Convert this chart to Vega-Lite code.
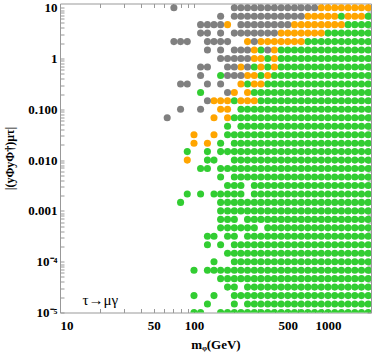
{
"$schema":"https://vega.github.io/schema/vega-lite/v6.json",
"width":311,"height":309,
"autosize":{"type":"none"},
"padding":{"left":60,"top":3.5,"right":3,"bottom":43.5},
"background":"white",
"config":{"view":{"stroke":null},"axis":{"grid":false,"domainColor":"#999999","tickColor":"#999999","labelFont":"Liberation Serif","labelFontWeight":"bold","labelFontSize":13,"labelColor":"#000000","titleFont":"Liberation Serif","titleFontWeight":"bold","titleFontSize":13,"titleColor":"#000000","tickSize":-4,"labelPadding":7,"labelOverlap":false}},
"datasets":{
"green":[
{"m":100,"y":1e-5},{"m":112,"y":1e-5},{"m":158,"y":1e-5},{"m":178,"y":1e-5},{"m":200,"y":1e-5},{"m":224,"y":1e-5},{"m":251,"y":1e-5},{"m":282,"y":1e-5},{"m":316,"y":1e-5},{"m":355,"y":1e-5},{"m":398,"y":1e-5},{"m":447,"y":1e-5},{"m":501,"y":1e-5},{"m":562,"y":1e-5},{"m":631,"y":1e-5},{"m":708,"y":1e-5},{"m":794,"y":1e-5},{"m":891,"y":1e-5},{"m":1000,"y":1e-5},{"m":1122,"y":1e-5},{"m":1259,"y":1e-5},{"m":1413,"y":1e-5},{"m":1585,"y":1e-5},{"m":1778,"y":1e-5},{"m":1995,"y":1e-5},
{"m":126,"y":1.47e-5},{"m":200,"y":1.47e-5},{"m":251,"y":1.47e-5},{"m":282,"y":1.47e-5},{"m":316,"y":1.47e-5},{"m":355,"y":1.47e-5},{"m":398,"y":1.47e-5},{"m":447,"y":1.47e-5},{"m":501,"y":1.47e-5},{"m":562,"y":1.47e-5},{"m":631,"y":1.47e-5},{"m":708,"y":1.47e-5},{"m":794,"y":1.47e-5},{"m":891,"y":1.47e-5},{"m":1000,"y":1.47e-5},{"m":1122,"y":1.47e-5},{"m":1259,"y":1.47e-5},{"m":1413,"y":1.47e-5},{"m":1585,"y":1.47e-5},{"m":1778,"y":1.47e-5},{"m":1995,"y":1.47e-5},
{"m":100,"y":2.15e-5},{"m":141,"y":2.15e-5},{"m":200,"y":2.15e-5},{"m":224,"y":2.15e-5},{"m":251,"y":2.15e-5},{"m":282,"y":2.15e-5},{"m":316,"y":2.15e-5},{"m":355,"y":2.15e-5},{"m":398,"y":2.15e-5},{"m":447,"y":2.15e-5},{"m":501,"y":2.15e-5},{"m":562,"y":2.15e-5},{"m":631,"y":2.15e-5},{"m":708,"y":2.15e-5},{"m":794,"y":2.15e-5},{"m":891,"y":2.15e-5},{"m":1000,"y":2.15e-5},{"m":1122,"y":2.15e-5},{"m":1259,"y":2.15e-5},{"m":1413,"y":2.15e-5},{"m":1585,"y":2.15e-5},{"m":1778,"y":2.15e-5},{"m":1995,"y":2.15e-5},
{"m":178,"y":3.16e-5},{"m":200,"y":3.16e-5},{"m":251,"y":3.16e-5},{"m":282,"y":3.16e-5},{"m":316,"y":3.16e-5},{"m":355,"y":3.16e-5},{"m":398,"y":3.16e-5},{"m":447,"y":3.16e-5},{"m":501,"y":3.16e-5},{"m":562,"y":3.16e-5},{"m":631,"y":3.16e-5},{"m":708,"y":3.16e-5},{"m":794,"y":3.16e-5},{"m":891,"y":3.16e-5},{"m":1000,"y":3.16e-5},{"m":1122,"y":3.16e-5},{"m":1259,"y":3.16e-5},{"m":1413,"y":3.16e-5},{"m":1585,"y":3.16e-5},{"m":1778,"y":3.16e-5},{"m":1995,"y":3.16e-5},
{"m":158,"y":4.64e-5},{"m":178,"y":4.64e-5},{"m":200,"y":4.64e-5},{"m":224,"y":4.64e-5},{"m":251,"y":4.64e-5},{"m":282,"y":4.64e-5},{"m":316,"y":4.64e-5},{"m":355,"y":4.64e-5},{"m":398,"y":4.64e-5},{"m":447,"y":4.64e-5},{"m":501,"y":4.64e-5},{"m":562,"y":4.64e-5},{"m":631,"y":4.64e-5},{"m":708,"y":4.64e-5},{"m":794,"y":4.64e-5},{"m":891,"y":4.64e-5},{"m":1000,"y":4.64e-5},{"m":1122,"y":4.64e-5},{"m":1259,"y":4.64e-5},{"m":1413,"y":4.64e-5},{"m":1585,"y":4.64e-5},{"m":1778,"y":4.64e-5},{"m":1995,"y":4.64e-5},
{"m":100,"y":6.81e-5},{"m":126,"y":6.81e-5},{"m":141,"y":6.81e-5},{"m":158,"y":6.81e-5},{"m":178,"y":6.81e-5},{"m":200,"y":6.81e-5},{"m":224,"y":6.81e-5},{"m":251,"y":6.81e-5},{"m":282,"y":6.81e-5},{"m":316,"y":6.81e-5},{"m":355,"y":6.81e-5},{"m":398,"y":6.81e-5},{"m":447,"y":6.81e-5},{"m":501,"y":6.81e-5},{"m":562,"y":6.81e-5},{"m":631,"y":6.81e-5},{"m":708,"y":6.81e-5},{"m":794,"y":6.81e-5},{"m":891,"y":6.81e-5},{"m":1000,"y":6.81e-5},{"m":1122,"y":6.81e-5},{"m":1259,"y":6.81e-5},{"m":1413,"y":6.81e-5},{"m":1585,"y":6.81e-5},{"m":1778,"y":6.81e-5},{"m":1995,"y":6.81e-5},
{"m":141,"y":1e-4},{"m":200,"y":1e-4},{"m":224,"y":1e-4},{"m":251,"y":1e-4},{"m":282,"y":1e-4},{"m":316,"y":1e-4},{"m":355,"y":1e-4},{"m":398,"y":1e-4},{"m":447,"y":1e-4},{"m":501,"y":1e-4},{"m":562,"y":1e-4},{"m":631,"y":1e-4},{"m":708,"y":1e-4},{"m":794,"y":1e-4},{"m":891,"y":1e-4},{"m":1000,"y":1e-4},{"m":1122,"y":1e-4},{"m":1259,"y":1e-4},{"m":1413,"y":1e-4},{"m":1585,"y":1e-4},{"m":1778,"y":1e-4},{"m":1995,"y":1e-4},
{"m":178,"y":1.47e-4},{"m":200,"y":1.47e-4},{"m":224,"y":1.47e-4},{"m":251,"y":1.47e-4},{"m":282,"y":1.47e-4},{"m":316,"y":1.47e-4},{"m":355,"y":1.47e-4},{"m":398,"y":1.47e-4},{"m":447,"y":1.47e-4},{"m":501,"y":1.47e-4},{"m":562,"y":1.47e-4},{"m":631,"y":1.47e-4},{"m":708,"y":1.47e-4},{"m":794,"y":1.47e-4},{"m":891,"y":1.47e-4},{"m":1000,"y":1.47e-4},{"m":1122,"y":1.47e-4},{"m":1259,"y":1.47e-4},{"m":1413,"y":1.47e-4},{"m":1585,"y":1.47e-4},{"m":1778,"y":1.47e-4},{"m":1995,"y":1.47e-4},
{"m":126,"y":2.15e-4},{"m":158,"y":2.15e-4},{"m":200,"y":2.15e-4},{"m":224,"y":2.15e-4},{"m":251,"y":2.15e-4},{"m":282,"y":2.15e-4},{"m":316,"y":2.15e-4},{"m":355,"y":2.15e-4},{"m":398,"y":2.15e-4},{"m":447,"y":2.15e-4},{"m":501,"y":2.15e-4},{"m":562,"y":2.15e-4},{"m":631,"y":2.15e-4},{"m":708,"y":2.15e-4},{"m":794,"y":2.15e-4},{"m":891,"y":2.15e-4},{"m":1000,"y":2.15e-4},{"m":1122,"y":2.15e-4},{"m":1259,"y":2.15e-4},{"m":1413,"y":2.15e-4},{"m":1585,"y":2.15e-4},{"m":1778,"y":2.15e-4},{"m":1995,"y":2.15e-4},
{"m":126,"y":3.16e-4},{"m":141,"y":3.16e-4},{"m":178,"y":3.16e-4},{"m":200,"y":3.16e-4},{"m":251,"y":3.16e-4},{"m":282,"y":3.16e-4},{"m":316,"y":3.16e-4},{"m":355,"y":3.16e-4},{"m":398,"y":3.16e-4},{"m":447,"y":3.16e-4},{"m":501,"y":3.16e-4},{"m":562,"y":3.16e-4},{"m":631,"y":3.16e-4},{"m":708,"y":3.16e-4},{"m":794,"y":3.16e-4},{"m":891,"y":3.16e-4},{"m":1000,"y":3.16e-4},{"m":1122,"y":3.16e-4},{"m":1259,"y":3.16e-4},{"m":1413,"y":3.16e-4},{"m":1585,"y":3.16e-4},{"m":1778,"y":3.16e-4},{"m":1995,"y":3.16e-4},
{"m":158,"y":4.64e-4},{"m":178,"y":4.64e-4},{"m":200,"y":4.64e-4},{"m":224,"y":4.64e-4},{"m":251,"y":4.64e-4},{"m":282,"y":4.64e-4},{"m":355,"y":4.64e-4},{"m":398,"y":4.64e-4},{"m":447,"y":4.64e-4},{"m":501,"y":4.64e-4},{"m":562,"y":4.64e-4},{"m":631,"y":4.64e-4},{"m":708,"y":4.64e-4},{"m":794,"y":4.64e-4},{"m":891,"y":4.64e-4},{"m":1000,"y":4.64e-4},{"m":1122,"y":4.64e-4},{"m":1259,"y":4.64e-4},{"m":1413,"y":4.64e-4},{"m":1585,"y":4.64e-4},{"m":1778,"y":4.64e-4},{"m":1995,"y":4.64e-4},
{"m":158,"y":6.81e-4},{"m":178,"y":6.81e-4},{"m":200,"y":6.81e-4},{"m":251,"y":6.81e-4},{"m":282,"y":6.81e-4},{"m":316,"y":6.81e-4},{"m":355,"y":6.81e-4},{"m":398,"y":6.81e-4},{"m":447,"y":6.81e-4},{"m":501,"y":6.81e-4},{"m":562,"y":6.81e-4},{"m":631,"y":6.81e-4},{"m":708,"y":6.81e-4},{"m":794,"y":6.81e-4},{"m":891,"y":6.81e-4},{"m":1000,"y":6.81e-4},{"m":1122,"y":6.81e-4},{"m":1259,"y":6.81e-4},{"m":1413,"y":6.81e-4},{"m":1585,"y":6.81e-4},{"m":1778,"y":6.81e-4},{"m":1995,"y":6.81e-4},
{"m":158,"y":0.001},{"m":178,"y":0.001},{"m":200,"y":0.001},{"m":224,"y":0.001},{"m":251,"y":0.001},{"m":282,"y":0.001},{"m":316,"y":0.001},{"m":355,"y":0.001},{"m":398,"y":0.001},{"m":447,"y":0.001},{"m":501,"y":0.001},{"m":562,"y":0.001},{"m":631,"y":0.001},{"m":708,"y":0.001},{"m":794,"y":0.001},{"m":891,"y":0.001},{"m":1000,"y":0.001},{"m":1122,"y":0.001},{"m":1259,"y":0.001},{"m":1413,"y":0.001},{"m":1585,"y":0.001},{"m":1778,"y":0.001},{"m":1995,"y":0.001},
{"m":79.4,"y":0.00147},{"m":158,"y":0.00147},{"m":178,"y":0.00147},{"m":200,"y":0.00147},{"m":224,"y":0.00147},{"m":251,"y":0.00147},{"m":282,"y":0.00147},{"m":316,"y":0.00147},{"m":355,"y":0.00147},{"m":398,"y":0.00147},{"m":447,"y":0.00147},{"m":501,"y":0.00147},{"m":562,"y":0.00147},{"m":631,"y":0.00147},{"m":708,"y":0.00147},{"m":794,"y":0.00147},{"m":891,"y":0.00147},{"m":1000,"y":0.00147},{"m":1122,"y":0.00147},{"m":1259,"y":0.00147},{"m":1413,"y":0.00147},{"m":1585,"y":0.00147},{"m":1778,"y":0.00147},{"m":1995,"y":0.00147},
{"m":89.1,"y":0.00215},{"m":112,"y":0.00215},{"m":141,"y":0.00215},{"m":158,"y":0.00215},{"m":178,"y":0.00215},{"m":200,"y":0.00215},{"m":224,"y":0.00215},{"m":282,"y":0.00215},{"m":316,"y":0.00215},{"m":355,"y":0.00215},{"m":398,"y":0.00215},{"m":447,"y":0.00215},{"m":501,"y":0.00215},{"m":562,"y":0.00215},{"m":631,"y":0.00215},{"m":708,"y":0.00215},{"m":794,"y":0.00215},{"m":891,"y":0.00215},{"m":1000,"y":0.00215},{"m":1122,"y":0.00215},{"m":1259,"y":0.00215},{"m":1413,"y":0.00215},{"m":1585,"y":0.00215},{"m":1778,"y":0.00215},{"m":1995,"y":0.00215},
{"m":178,"y":0.00316},{"m":200,"y":0.00316},{"m":224,"y":0.00316},{"m":282,"y":0.00316},{"m":316,"y":0.00316},{"m":355,"y":0.00316},{"m":398,"y":0.00316},{"m":447,"y":0.00316},{"m":501,"y":0.00316},{"m":562,"y":0.00316},{"m":631,"y":0.00316},{"m":708,"y":0.00316},{"m":794,"y":0.00316},{"m":891,"y":0.00316},{"m":1000,"y":0.00316},{"m":1122,"y":0.00316},{"m":1259,"y":0.00316},{"m":1413,"y":0.00316},{"m":1585,"y":0.00316},{"m":1778,"y":0.00316},{"m":1995,"y":0.00316},
{"m":158,"y":0.00464},{"m":200,"y":0.00464},{"m":224,"y":0.00464},{"m":251,"y":0.00464},{"m":282,"y":0.00464},{"m":316,"y":0.00464},{"m":355,"y":0.00464},{"m":398,"y":0.00464},{"m":447,"y":0.00464},{"m":501,"y":0.00464},{"m":562,"y":0.00464},{"m":631,"y":0.00464},{"m":708,"y":0.00464},{"m":794,"y":0.00464},{"m":891,"y":0.00464},{"m":1000,"y":0.00464},{"m":1122,"y":0.00464},{"m":1259,"y":0.00464},{"m":1413,"y":0.00464},{"m":1585,"y":0.00464},{"m":1778,"y":0.00464},{"m":1995,"y":0.00464},
{"m":112,"y":0.00681},{"m":126,"y":0.00681},{"m":158,"y":0.00681},{"m":178,"y":0.00681},{"m":200,"y":0.00681},{"m":224,"y":0.00681},{"m":251,"y":0.00681},{"m":282,"y":0.00681},{"m":316,"y":0.00681},{"m":355,"y":0.00681},{"m":398,"y":0.00681},{"m":447,"y":0.00681},{"m":501,"y":0.00681},{"m":562,"y":0.00681},{"m":631,"y":0.00681},{"m":708,"y":0.00681},{"m":794,"y":0.00681},{"m":891,"y":0.00681},{"m":1000,"y":0.00681},{"m":1122,"y":0.00681},{"m":1259,"y":0.00681},{"m":1413,"y":0.00681},{"m":1585,"y":0.00681},{"m":1778,"y":0.00681},{"m":1995,"y":0.00681},
{"m":126,"y":0.01},{"m":141,"y":0.01},{"m":200,"y":0.01},{"m":224,"y":0.01},{"m":251,"y":0.01},{"m":282,"y":0.01},{"m":316,"y":0.01},{"m":355,"y":0.01},{"m":398,"y":0.01},{"m":447,"y":0.01},{"m":501,"y":0.01},{"m":562,"y":0.01},{"m":631,"y":0.01},{"m":708,"y":0.01},{"m":794,"y":0.01},{"m":891,"y":0.01},{"m":1000,"y":0.01},{"m":1122,"y":0.01},{"m":1259,"y":0.01},{"m":1413,"y":0.01},{"m":1585,"y":0.01},{"m":1778,"y":0.01},{"m":1995,"y":0.01},
{"m":89.1,"y":0.0147},{"m":126,"y":0.0147},{"m":158,"y":0.0147},{"m":178,"y":0.0147},{"m":200,"y":0.0147},{"m":224,"y":0.0147},{"m":251,"y":0.0147},{"m":282,"y":0.0147},{"m":316,"y":0.0147},{"m":355,"y":0.0147},{"m":398,"y":0.0147},{"m":447,"y":0.0147},{"m":501,"y":0.0147},{"m":562,"y":0.0147},{"m":631,"y":0.0147},{"m":708,"y":0.0147},{"m":794,"y":0.0147},{"m":891,"y":0.0147},{"m":1000,"y":0.0147},{"m":1122,"y":0.0147},{"m":1259,"y":0.0147},{"m":1413,"y":0.0147},{"m":1585,"y":0.0147},{"m":1778,"y":0.0147},{"m":1995,"y":0.0147},
{"m":158,"y":0.0215},{"m":200,"y":0.0215},{"m":224,"y":0.0215},{"m":251,"y":0.0215},{"m":282,"y":0.0215},{"m":316,"y":0.0215},{"m":355,"y":0.0215},{"m":398,"y":0.0215},{"m":447,"y":0.0215},{"m":501,"y":0.0215},{"m":562,"y":0.0215},{"m":631,"y":0.0215},{"m":708,"y":0.0215},{"m":794,"y":0.0215},{"m":891,"y":0.0215},{"m":1000,"y":0.0215},{"m":1122,"y":0.0215},{"m":1259,"y":0.0215},{"m":1413,"y":0.0215},{"m":1585,"y":0.0215},{"m":1778,"y":0.0215},{"m":1995,"y":0.0215},
{"m":178,"y":0.0316},{"m":200,"y":0.0316},{"m":224,"y":0.0316},{"m":251,"y":0.0316},{"m":282,"y":0.0316},{"m":316,"y":0.0316},{"m":355,"y":0.0316},{"m":398,"y":0.0316},{"m":447,"y":0.0316},{"m":501,"y":0.0316},{"m":562,"y":0.0316},{"m":631,"y":0.0316},{"m":708,"y":0.0316},{"m":794,"y":0.0316},{"m":891,"y":0.0316},{"m":1000,"y":0.0316},{"m":1122,"y":0.0316},{"m":1259,"y":0.0316},{"m":1413,"y":0.0316},{"m":1585,"y":0.0316},{"m":1778,"y":0.0316},{"m":1995,"y":0.0316},
{"m":178,"y":0.0464},{"m":224,"y":0.0464},{"m":251,"y":0.0464},{"m":282,"y":0.0464},{"m":316,"y":0.0464},{"m":355,"y":0.0464},{"m":398,"y":0.0464},{"m":447,"y":0.0464},{"m":501,"y":0.0464},{"m":562,"y":0.0464},{"m":631,"y":0.0464},{"m":708,"y":0.0464},{"m":794,"y":0.0464},{"m":891,"y":0.0464},{"m":1000,"y":0.0464},{"m":1122,"y":0.0464},{"m":1259,"y":0.0464},{"m":1413,"y":0.0464},{"m":1585,"y":0.0464},{"m":1778,"y":0.0464},{"m":1995,"y":0.0464},
{"m":200,"y":0.0681},{"m":224,"y":0.0681},{"m":251,"y":0.0681},{"m":282,"y":0.0681},{"m":316,"y":0.0681},{"m":355,"y":0.0681},{"m":398,"y":0.0681},{"m":447,"y":0.0681},{"m":501,"y":0.0681},{"m":562,"y":0.0681},{"m":631,"y":0.0681},{"m":708,"y":0.0681},{"m":794,"y":0.0681},{"m":891,"y":0.0681},{"m":1000,"y":0.0681},{"m":1122,"y":0.0681},{"m":1259,"y":0.0681},{"m":1413,"y":0.0681},{"m":1585,"y":0.0681},{"m":1778,"y":0.0681},{"m":1995,"y":0.0681},
{"m":224,"y":0.1},{"m":251,"y":0.1},{"m":282,"y":0.1},{"m":316,"y":0.1},{"m":355,"y":0.1},{"m":398,"y":0.1},{"m":447,"y":0.1},{"m":501,"y":0.1},{"m":562,"y":0.1},{"m":631,"y":0.1},{"m":708,"y":0.1},{"m":794,"y":0.1},{"m":891,"y":0.1},{"m":1000,"y":0.1},{"m":1122,"y":0.1},{"m":1259,"y":0.1},{"m":1413,"y":0.1},{"m":1585,"y":0.1},{"m":1778,"y":0.1},{"m":1995,"y":0.1},
{"m":200,"y":0.147},{"m":316,"y":0.147},{"m":355,"y":0.147},{"m":398,"y":0.147},{"m":447,"y":0.147},{"m":501,"y":0.147},{"m":562,"y":0.147},{"m":631,"y":0.147},{"m":708,"y":0.147},{"m":794,"y":0.147},{"m":891,"y":0.147},{"m":1000,"y":0.147},{"m":1122,"y":0.147},{"m":1259,"y":0.147},{"m":1413,"y":0.147},{"m":1585,"y":0.147},{"m":1778,"y":0.147},{"m":1995,"y":0.147},
{"m":112,"y":0.215},{"m":282,"y":0.215},{"m":316,"y":0.215},{"m":355,"y":0.215},{"m":398,"y":0.215},{"m":447,"y":0.215},{"m":501,"y":0.215},{"m":562,"y":0.215},{"m":631,"y":0.215},{"m":708,"y":0.215},{"m":794,"y":0.215},{"m":891,"y":0.215},{"m":1000,"y":0.215},{"m":1122,"y":0.215},{"m":1259,"y":0.215},{"m":1413,"y":0.215},{"m":1585,"y":0.215},{"m":1778,"y":0.215},{"m":1995,"y":0.215},
{"m":251,"y":0.316},{"m":355,"y":0.316},{"m":398,"y":0.316},{"m":447,"y":0.316},{"m":501,"y":0.316},{"m":562,"y":0.316},{"m":631,"y":0.316},{"m":708,"y":0.316},{"m":794,"y":0.316},{"m":891,"y":0.316},{"m":1000,"y":0.316},{"m":1122,"y":0.316},{"m":1259,"y":0.316},{"m":1413,"y":0.316},{"m":1585,"y":0.316},{"m":1778,"y":0.316},{"m":1995,"y":0.316},
{"m":158,"y":0.464},{"m":316,"y":0.464},{"m":398,"y":0.464},{"m":447,"y":0.464},{"m":501,"y":0.464},{"m":562,"y":0.464},{"m":631,"y":0.464},{"m":708,"y":0.464},{"m":794,"y":0.464},{"m":891,"y":0.464},{"m":1000,"y":0.464},{"m":1122,"y":0.464},{"m":1259,"y":0.464},{"m":1413,"y":0.464},{"m":1585,"y":0.464},{"m":1778,"y":0.464},{"m":1995,"y":0.464},
{"m":282,"y":0.681},{"m":355,"y":0.681},{"m":447,"y":0.681},{"m":501,"y":0.681},{"m":562,"y":0.681},{"m":631,"y":0.681},{"m":708,"y":0.681},{"m":794,"y":0.681},{"m":891,"y":0.681},{"m":1000,"y":0.681},{"m":1122,"y":0.681},{"m":1259,"y":0.681},{"m":1413,"y":0.681},{"m":1585,"y":0.681},{"m":1778,"y":0.681},{"m":1995,"y":0.681},
{"m":355,"y":1},{"m":447,"y":1},{"m":501,"y":1},{"m":562,"y":1},{"m":631,"y":1},{"m":708,"y":1},{"m":794,"y":1},{"m":891,"y":1},{"m":1000,"y":1},{"m":1122,"y":1},{"m":1259,"y":1},{"m":1413,"y":1},{"m":1585,"y":1},{"m":1778,"y":1},{"m":1995,"y":1},
{"m":316,"y":1.47},{"m":447,"y":1.47},{"m":501,"y":1.47},{"m":562,"y":1.47},{"m":631,"y":1.47},{"m":708,"y":1.47},{"m":794,"y":1.47},{"m":891,"y":1.47},{"m":1000,"y":1.47},{"m":1122,"y":1.47},{"m":1259,"y":1.47},{"m":1413,"y":1.47},{"m":1585,"y":1.47},{"m":1778,"y":1.47},{"m":1995,"y":1.47},
{"m":708,"y":2.15},{"m":794,"y":2.15},{"m":891,"y":2.15},{"m":1000,"y":2.15},{"m":1122,"y":2.15},{"m":1259,"y":2.15},{"m":1413,"y":2.15},{"m":1585,"y":2.15},{"m":1778,"y":2.15},{"m":1995,"y":2.15},
{"m":1000,"y":3.16},{"m":1122,"y":3.16},{"m":1259,"y":3.16},{"m":1413,"y":3.16},{"m":1585,"y":3.16},{"m":1778,"y":3.16},{"m":1995,"y":3.16},
{"m":1413,"y":4.64},{"m":1585,"y":4.64},{"m":1778,"y":4.64},{"m":1995,"y":4.64},
{"m":1259,"y":6.81},{"m":1995,"y":6.81}
],
"orange":[
{"m":89.1,"y":0.01},
{"m":100,"y":0.0215},{"m":126,"y":0.0215},
{"m":100,"y":0.0316},{"m":141,"y":0.0316},
{"m":141,"y":0.0681},{"m":178,"y":0.0681},
{"m":158,"y":0.1},{"m":178,"y":0.1},
{"m":141,"y":0.147},{"m":158,"y":0.147},{"m":178,"y":0.147},{"m":224,"y":0.147},{"m":251,"y":0.147},{"m":282,"y":0.147},
{"m":200,"y":0.215},{"m":251,"y":0.215},
{"m":224,"y":0.316},{"m":282,"y":0.316},{"m":316,"y":0.316},
{"m":251,"y":0.464},{"m":282,"y":0.464},{"m":355,"y":0.464},
{"m":224,"y":0.681},{"m":316,"y":0.681},{"m":398,"y":0.681},
{"m":282,"y":1},{"m":316,"y":1},{"m":398,"y":1},
{"m":282,"y":1.47},{"m":398,"y":1.47},
{"m":251,"y":2.15},{"m":316,"y":2.15},{"m":355,"y":2.15},{"m":398,"y":2.15},{"m":447,"y":2.15},{"m":501,"y":2.15},{"m":562,"y":2.15},{"m":631,"y":2.15},
{"m":447,"y":3.16},{"m":501,"y":3.16},{"m":562,"y":3.16},{"m":631,"y":3.16},{"m":708,"y":3.16},{"m":794,"y":3.16},{"m":891,"y":3.16},
{"m":178,"y":4.64},{"m":562,"y":4.64},{"m":631,"y":4.64},{"m":708,"y":4.64},{"m":794,"y":4.64},{"m":891,"y":4.64},{"m":1000,"y":4.64},{"m":1122,"y":4.64},{"m":1259,"y":4.64},
{"m":708,"y":6.81},{"m":794,"y":6.81},{"m":891,"y":6.81},{"m":1000,"y":6.81},{"m":1122,"y":6.81},{"m":1413,"y":6.81},{"m":1585,"y":6.81},{"m":1778,"y":6.81},
{"m":891,"y":10},{"m":1000,"y":10},{"m":1122,"y":10},{"m":1259,"y":10},{"m":1413,"y":10},{"m":1585,"y":10},{"m":1778,"y":10},{"m":1995,"y":10}
],
"gray":[
{"m":63.1,"y":0.0681},
{"m":79.4,"y":0.1},{"m":112,"y":0.1},
{"m":126,"y":0.147},
{"m":178,"y":0.215},
{"m":79.4,"y":0.316},{"m":89.1,"y":0.316},{"m":126,"y":0.316},{"m":158,"y":0.316},
{"m":112,"y":0.464},{"m":178,"y":0.464},{"m":200,"y":0.464},{"m":224,"y":0.464},
{"m":112,"y":0.681},{"m":126,"y":0.681},{"m":178,"y":0.681},{"m":200,"y":0.681},{"m":251,"y":0.681},
{"m":158,"y":1},{"m":178,"y":1},{"m":200,"y":1},{"m":224,"y":1},{"m":251,"y":1},
{"m":126,"y":1.47},{"m":158,"y":1.47},{"m":200,"y":1.47},{"m":224,"y":1.47},{"m":251,"y":1.47},{"m":355,"y":1.47},
{"m":70.8,"y":2.15},{"m":79.4,"y":2.15},{"m":89.1,"y":2.15},{"m":126,"y":2.15},{"m":141,"y":2.15},{"m":158,"y":2.15},{"m":178,"y":2.15},{"m":282,"y":2.15},
{"m":112,"y":3.16},{"m":126,"y":3.16},{"m":158,"y":3.16},{"m":200,"y":3.16},{"m":224,"y":3.16},{"m":251,"y":3.16},{"m":282,"y":3.16},{"m":316,"y":3.16},{"m":355,"y":3.16},{"m":398,"y":3.16},
{"m":112,"y":4.64},{"m":126,"y":4.64},{"m":141,"y":4.64},{"m":158,"y":4.64},{"m":224,"y":4.64},{"m":251,"y":4.64},{"m":282,"y":4.64},{"m":316,"y":4.64},{"m":355,"y":4.64},{"m":398,"y":4.64},{"m":447,"y":4.64},{"m":501,"y":4.64},
{"m":158,"y":6.81},{"m":200,"y":6.81},{"m":224,"y":6.81},{"m":251,"y":6.81},{"m":282,"y":6.81},{"m":316,"y":6.81},{"m":355,"y":6.81},{"m":398,"y":6.81},{"m":447,"y":6.81},{"m":501,"y":6.81},{"m":562,"y":6.81},{"m":631,"y":6.81},
{"m":70.8,"y":10},{"m":200,"y":10},{"m":224,"y":10},{"m":251,"y":10},{"m":282,"y":10},{"m":316,"y":10},{"m":355,"y":10},{"m":398,"y":10},{"m":447,"y":10},{"m":501,"y":10},{"m":562,"y":10},{"m":631,"y":10},{"m":708,"y":10},{"m":794,"y":10}
],
"label":[{"m":20,"y":1.8e-5,"t":"τ→μγ"}]
},
"layer":[
{"data":{"name":"green"},"mark":{"type":"circle","size":50,"opacity":1,"color":"#32CD32","clip":true},
"encoding":{
"x":{"field":"m","type":"quantitative","scale":{"type":"log","domain":[10,2094],"nice":false},"axis":{"orient":"bottom","values":[10,20,30,40,50,60,70,80,90,100,200,300,400,500,600,700,800,900,1000,2000],"labelExpr":"indexof([10,50,100,500,1000], datum.value) >= 0 ? toString(datum.value) : ''","labelPadding":11,"title":"mᵩ(GeV)","titlePadding":6}},
"y":{"field":"y","type":"quantitative","scale":{"type":"log","domain":[1e-5,12.1],"nice":false},"axis":{"orient":"left","values":[1e-5,2e-5,3e-5,4e-5,5e-5,6e-5,7e-5,8e-5,9e-5,1e-4,2e-4,3e-4,4e-4,5e-4,6e-4,7e-4,8e-4,9e-4,0.001,0.002,0.003,0.004,0.005,0.006,0.007,0.008,0.009,0.01,0.02,0.03,0.04,0.05,0.06,0.07,0.08,0.09,0.1,0.2,0.3,0.4,0.5,0.6,0.7,0.8,0.9,1,2,3,4,5,6,7,8,9,10],"labelExpr":"datum.value==10?'10':datum.value==1?'1':datum.value==0.1?'0.100':datum.value==0.01?'0.010':datum.value==0.001?'0.001':datum.value==0.0001?'10⁻⁴':datum.value==0.00001?'10⁻⁵':''","title":"|(yΦyΦ†)μτ|","titleFontSize":12,"titlePadding":11}}}},
{"data":{"name":"orange"},"mark":{"type":"circle","size":50,"opacity":1,"color":"#FFA500","clip":true},
"encoding":{
"x":{"field":"m","type":"quantitative","scale":{"type":"log","domain":[10,2094],"nice":false},"axis":null},
"y":{"field":"y","type":"quantitative","scale":{"type":"log","domain":[1e-5,12.1],"nice":false},"axis":null}}},
{"data":{"name":"gray"},"mark":{"type":"circle","size":50,"opacity":1,"color":"#808080","clip":true},
"encoding":{
"x":{"field":"m","type":"quantitative","scale":{"type":"log","domain":[10,2094],"nice":false},"axis":null},
"y":{"field":"y","type":"quantitative","scale":{"type":"log","domain":[1e-5,12.1],"nice":false},"axis":null}}},
{"data":{"name":"label"},"mark":{"type":"text","font":"Liberation Serif","fontSize":15,"align":"center","baseline":"middle","color":"#000000"},
"encoding":{
"x":{"field":"m","type":"quantitative","scale":{"type":"log","domain":[10,2094],"nice":false},"axis":{"orient":"top","values":[10,20,30,40,50,60,70,80,90,100,200,300,400,500,600,700,800,900,1000,2000],"labels":false,"title":null}},
"y":{"field":"y","type":"quantitative","scale":{"type":"log","domain":[1e-5,12.1],"nice":false},"axis":{"orient":"right","values":[1e-5,2e-5,3e-5,4e-5,5e-5,6e-5,7e-5,8e-5,9e-5,1e-4,2e-4,3e-4,4e-4,5e-4,6e-4,7e-4,8e-4,9e-4,0.001,0.002,0.003,0.004,0.005,0.006,0.007,0.008,0.009,0.01,0.02,0.03,0.04,0.05,0.06,0.07,0.08,0.09,0.1,0.2,0.3,0.4,0.5,0.6,0.7,0.8,0.9,1,2,3,4,5,6,7,8,9,10],"labels":false,"title":null}},
"text":{"field":"t"}}}
],
"resolve":{"axis":{"x":"independent","y":"independent"}}
}
